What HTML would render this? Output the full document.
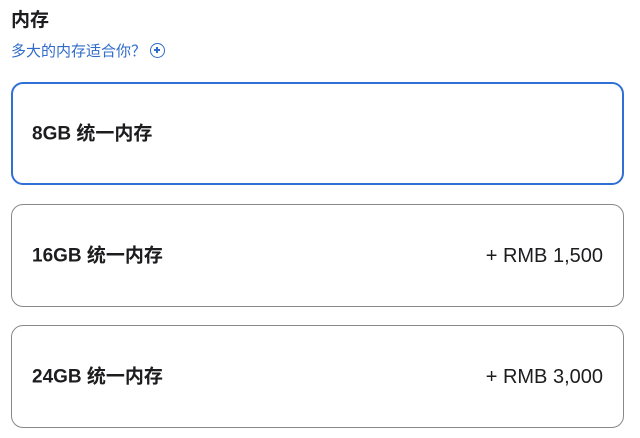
<!DOCTYPE html>
<html><head><meta charset="utf-8"><style>
body{margin:0;width:640px;height:438px;background:#fff;font-family:"Liberation Sans","Noto Sans CJK SC",sans-serif;color:#1d1d1f;position:relative;overflow:hidden}
.t{position:absolute;left:11px;top:5px;font-size:19px;font-weight:bold}
.l{position:absolute;left:11px;top:40px;font-size:15px;color:#2f6bc9;display:flex;align-items:center}
.c{display:inline-block;width:15px;height:15px;border:1.5px solid #2f6bc9;border-radius:50%;margin-left:4px;position:relative;box-sizing:border-box}
.c:before{content:"";position:absolute;left:3px;top:5.3px;width:6px;height:1.5px;background:#2f6bc9}
.c:after{content:"";position:absolute;left:5.3px;top:2.8px;width:1.5px;height:6.5px;background:#2f6bc9}
.b{position:absolute;left:11px;width:613px;border:1px solid #888;border-radius:12px;box-sizing:border-box;padding:0 20px;font-size:19px}
.b b,.b span{position:absolute;top:50%;transform:translateY(-50%);line-height:1;white-space:nowrap}
.b b{left:20px;font-weight:bold}
.b span{right:20px;font-size:20px}
.s{border:2px solid #2f6fd6}
.s b{left:19px}
</style></head><body>
<div class="t">内存</div>
<div class="l">多大的内存适合你？<span class="c"></span></div>
<div class="b s" style="top:82px;height:103px"><b>8GB 统一内存</b></div>
<div class="b" style="top:204px;height:103px"><b>16GB 统一内存</b><span>+ RMB 1,500</span></div>
<div class="b" style="top:325px;height:103px"><b>24GB 统一内存</b><span>+ RMB 3,000</span></div>
</body></html>
